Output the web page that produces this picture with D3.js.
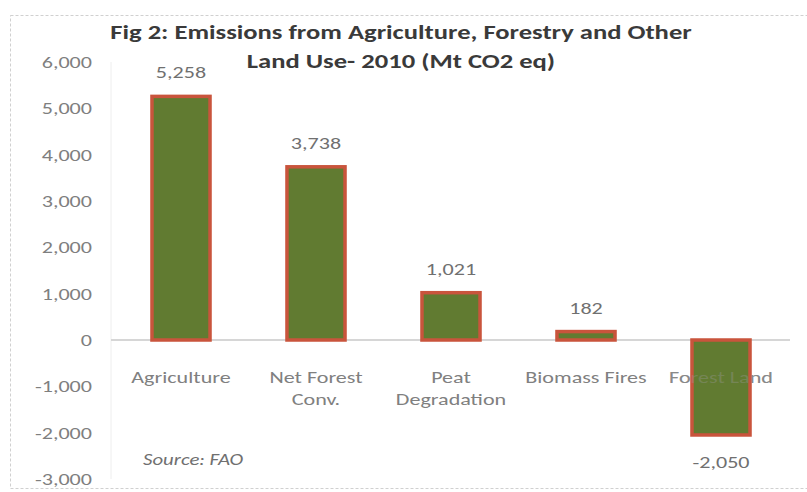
<!DOCTYPE html>
<html><head><meta charset="utf-8">
<script src="https://cdn.jsdelivr.net/npm/d3@7"></script>
<style>body{margin:0;background:#fff}svg{display:block}</style>
</head><body>
<svg id="c" width="807" height="492"></svg>
<script>
const categories = [["Agriculture"], ["Net Forest", "Conv."], ["Peat", "Degradation"], ["Biomass Fires"], ["Forest Land"]];
const values = [5258, 3738, 1021, 182, -2050];
const valueLabels = ["5,258", "3,738", "1,021", "182", "-2,050"];
const yTicks = [6000, 5000, 4000, 3000, 2000, 1000, 0, -1000, -2000, -3000];
const titleLines = ["Fig 2: Emissions from Agriculture, Forestry and Other", "Land Use- 2010 (Mt CO2 eq)"];
const source = "Source: FAO";

const svg = d3.select("#c");
const font = "Carlito, Calibri, 'Open Sans', sans-serif";
const SX = 1.3; // horizontal stretch of the original picture

function txt(parent, x, y, t, o) {
  o = o || {};
  return parent.append("text")
    .attr("transform", `translate(${x},${y}) scale(${o.sx || SX},1)`)
    .attr("text-anchor", o.anchor || "middle")
    .attr("font-family", font).attr("font-size", o.size || 17)
    .attr("font-weight", o.weight || "normal").attr("font-style", o.style || "normal")
    .attr("fill", o.fill || "#7f7f7f").text(t);
}

// frame
svg.append("rect").attr("x", 10.5).attr("y", 15.5).attr("width", 800).attr("height", 473)
  .attr("fill", "#fff").attr("stroke", "#d0d0d0").attr("stroke-width", 1).attr("stroke-dasharray", "3,2");

const y = d3.scaleLinear().domain([-3000, 6000]).range([479, 62]);
const x = d3.scaleBand().domain(d3.range(values.length)).range([113.5, 788.5]).paddingInner(0.57).paddingOuter(0.285);

// y axis labels
const fmt = d3.format(",");
const yAxis = d3.axisLeft(y).tickValues(yTicks).tickSize(0).tickPadding(0)
  .tickFormat(d => fmt(d).replace("\u2212", "-"));
const ga = svg.append("g").attr("transform", `translate(92,0) scale(${SX},1)`).call(yAxis);
ga.select(".domain").remove();
ga.selectAll("text").attr("font-family", font).attr("font-size", 17).attr("fill", "#7f7f7f");

// faint vertical axis line
svg.append("line").attr("x1", 111).attr("x2", 111).attr("y1", 62).attr("y2", 479).attr("stroke", "#eeeeee");

// zero line
svg.append("line").attr("x1", 111).attr("x2", 790).attr("y1", y(0)).attr("y2", y(0))
  .attr("stroke", "#d6d6d6").attr("stroke-width", 2);

// category labels
const cl = svg.append("g");
categories.forEach((lines, i) => {
  lines.forEach((t, j) => {
    txt(cl, x(i) + x.bandwidth() / 2, 383 + j * 22, t, {fill: "#808080"});
  });
});

// bars
svg.append("g").selectAll("rect").data(values).join("rect")
  .attr("x", (d, i) => x(i))
  .attr("y", d => y(Math.max(0, d)))
  .attr("width", x.bandwidth())
  .attr("height", d => Math.abs(y(d) - y(0)))
  .attr("fill", "#617b31").attr("stroke", "#c9543c").attr("stroke-width", 3.5);

// faint label showing through the negative bar
const ol = svg.append("g").attr("opacity", 0.35);
categories.forEach((lines, i) => {
  if (values[i] < 0) lines.forEach((t, j) => txt(ol, x(i) + x.bandwidth() / 2, 383 + j * 22, t, {fill: "#9a9a9a"}));
});

// value labels
const vl = svg.append("g");
values.forEach((d, i) => {
  txt(vl, x(i) + x.bandwidth() / 2, d >= 0 ? y(d) - 18 : y(d) + 33, valueLabels[i], {fill: "#707070"});
});

// title
titleLines.forEach((t, i) => {
  txt(svg, 401, 39 + i * 29, t, {size: 20, weight: "bold", fill: "#3a3a3a", sx: 1.33});
});

// source
txt(svg, 143, 465, source, {anchor: "start", style: "italic", fill: "#707070", size: 16});
</script>
</body></html>
